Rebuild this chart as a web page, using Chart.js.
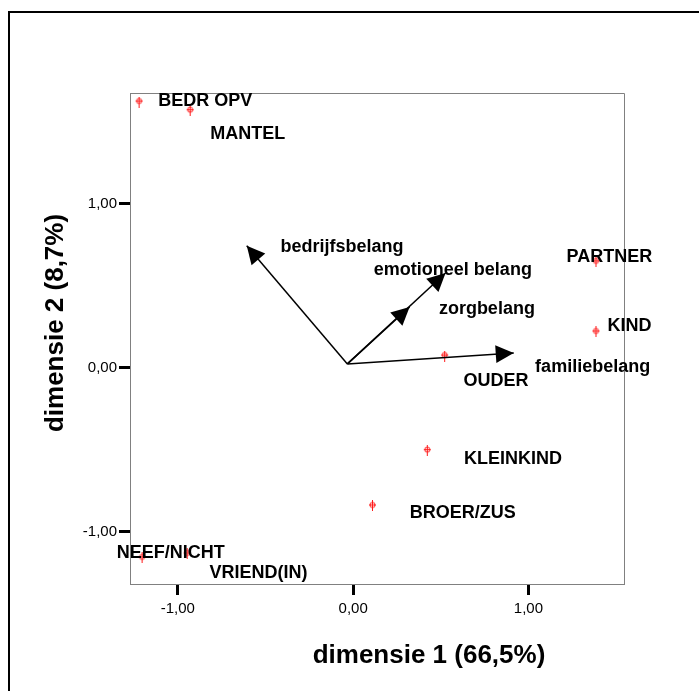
<!DOCTYPE html>
<html>
<head>
<meta charset="utf-8">
<script src="https://cdn.jsdelivr.net/npm/chart.js@4.4.1/dist/chart.umd.min.js"></script>
<style>
  html, body { margin: 0; padding: 0; background: #fff; }
  #wrap { position: relative; width: 699px; height: 691px; overflow: hidden; }
  #frame { position: absolute; left: 8px; top: 11px; width: 760px; height: 760px; border: 2px solid #000; }
  canvas { position: absolute; left: 0; top: 0; }
</style>
</head>
<body>
<div id="wrap">
  <div id="frame"></div>
  <canvas id="chart" width="699" height="691"></canvas>
</div>
<script>
// object points (categories) with their coordinates on both dimensions
const categories = ['BEDR OPV', 'MANTEL', 'PARTNER', 'KIND', 'OUDER', 'KLEINKIND', 'BROER/ZUS', 'NEEF/NICHT', 'VRIEND(IN)'];
const dim1 = [-1.221, -0.930, 1.385, 1.385, 0.522, 0.423, 0.110, -1.204, -0.947];
const dim2 = [1.620, 1.567, 0.645, 0.218, 0.071, -0.506, -0.843, -1.160, -1.136];
// where the label of each point sits (left edge, middle), in axis units
const labelX = [-1.112, -0.815, 1.217, 1.451, 0.629, 0.632, 0.323, -1.349, -0.819];
const labelY = [1.628, 1.423, 0.673, 0.254, -0.081, -0.559, -0.888, -1.128, -1.254];

// variable vectors
const vectors = ['bedrijfsbelang', 'emotioneel belang', 'zorgbelang', 'familiebelang'];
const vecX = [-0.607, 0.527, 0.322, 0.916];
const vecY = [0.744, 0.577, 0.370, 0.090];
const vecOrigin = [-0.033, 0.023];
const vecLabelX = [-0.415, 0.118, 0.489, 1.038];
const vecLabelY = [0.736, 0.596, 0.356, 0.006];

const xTicks = [-1, 0, 1];
const yTicks = [-1, 0, 1];
const xRange = [-1.273, 1.545];
const yRange = [-1.319, 1.675];

const fmt = v => v.toFixed(2).replace('.', ',');

function makeMarker() {
  const c = document.createElement('canvas');
  c.width = 9; c.height = 11;
  const g = c.getContext('2d');
  g.strokeStyle = '#ff1a1a';
  g.lineWidth = 1;
  g.beginPath();
  g.moveTo(4.5, 0); g.lineTo(4.5, 11);
  g.moveTo(1, 4.5); g.lineTo(8, 4.5);
  g.stroke();
  g.beginPath();
  g.arc(4.5, 4.5, 2.6, 0, Math.PI * 2);
  g.stroke();
  return c;
}
const marker = makeMarker();

const datasets = vectors.map((name, i) => ({
  type: 'line',
  label: name,
  data: [{x: vecOrigin[0], y: vecOrigin[1]}, {x: vecX[i], y: vecY[i]}],
  borderColor: '#000',
  borderWidth: 1.5,
  pointRadius: 0
}));
datasets.push({
  type: 'scatter',
  label: 'objecten',
  data: dim1.map((v, i) => ({x: v, y: dim2[i]})),
  pointStyle: marker,
  pointRadius: 5
});

// arrow heads at the end of each vector
const arrowPlugin = {
  id: 'arrows',
  afterDatasetsDraw(chart) {
    const {ctx, scales: {x, y}} = chart;
    const ox = x.getPixelForValue(vecOrigin[0]);
    const oy = y.getPixelForValue(vecOrigin[1]);
    ctx.save();
    ctx.fillStyle = '#000';
    vecX.forEach((vx, i) => {
      const tx = x.getPixelForValue(vx), ty = y.getPixelForValue(vecY[i]);
      const a = Math.atan2(ty - oy, tx - ox);
      const len = 18, half = 9;
      const bx = tx - len * Math.cos(a), by = ty - len * Math.sin(a);
      ctx.beginPath();
      ctx.moveTo(tx, ty);
      ctx.lineTo(bx + half * Math.sin(a), by - half * Math.cos(a));
      ctx.lineTo(bx - half * Math.sin(a), by + half * Math.cos(a));
      ctx.closePath();
      ctx.fill();
    });
    ctx.restore();
  }
};

// text labels, frame and axis titles
const textPlugin = {
  id: 'texts',
  afterDraw(chart) {
    const {ctx, chartArea: a, scales: {x, y}} = chart;
    ctx.save();
    ctx.strokeStyle = '#808080';
    ctx.lineWidth = 1;
    ctx.beginPath();
    ctx.moveTo(a.left, a.top + 0.5);
    ctx.lineTo(a.right + 0.5, a.top + 0.5);
    ctx.lineTo(a.right + 0.5, a.bottom);
    ctx.stroke();

    ctx.fillStyle = '#000';
    ctx.font = 'bold 18px "Liberation Sans", Arial, sans-serif';
    ctx.textAlign = 'left';
    ctx.textBaseline = 'middle';
    categories.forEach((c, i) => {
      ctx.fillText(c, x.getPixelForValue(labelX[i]), y.getPixelForValue(labelY[i]));
    });
    vectors.forEach((v, i) => {
      ctx.fillText(v, x.getPixelForValue(vecLabelX[i]), y.getPixelForValue(vecLabelY[i]));
    });

    ctx.font = 'bold 26px "Liberation Sans", Arial, sans-serif';
    ctx.textAlign = 'center';
    ctx.textBaseline = 'alphabetic';
    ctx.fillText('dimensie 1 (66,5%)', 429, 663);
    ctx.translate(63, 323);
    ctx.rotate(-Math.PI / 2);
    ctx.fillText('dimensie 2 (8,7%)', 0, 0);
    ctx.restore();
  }
};

new Chart(document.getElementById('chart'), {
  data: { datasets },
  options: {
    responsive: false,
    animation: false,
    layout: { padding: { top: 93, right: 75, left: 0, bottom: 0 } },
    plugins: { legend: { display: false }, tooltip: { enabled: false } },
    scales: {
      x: {
        type: 'linear',
        min: xRange[0], max: xRange[1],
        afterBuildTicks: s => { s.ticks = xTicks.map(v => ({value: v})); },
        afterFit: s => { s.height = 107; },
        grid: { drawOnChartArea: false, tickLength: 11, tickWidth: 3, tickColor: '#000' },
        border: { color: '#808080', width: 1 },
        ticks: { color: '#000', padding: 5, maxRotation: 0, font: { family: 'Liberation Sans', size: 15 }, callback: fmt }
      },
      y: {
        type: 'linear',
        min: yRange[0], max: yRange[1],
        afterBuildTicks: s => { s.ticks = yTicks.map(v => ({value: v})); },
        afterFit: s => { s.width = 130; },
        grid: { drawOnChartArea: false, tickLength: 11, tickWidth: 3, tickColor: '#000' },
        border: { color: '#808080', width: 1 },
        ticks: { color: '#000', padding: 2, font: { family: 'Liberation Sans', size: 15 }, callback: fmt }
      }
    }
  },
  plugins: [arrowPlugin, textPlugin]
});
</script>
</body>
</html>
